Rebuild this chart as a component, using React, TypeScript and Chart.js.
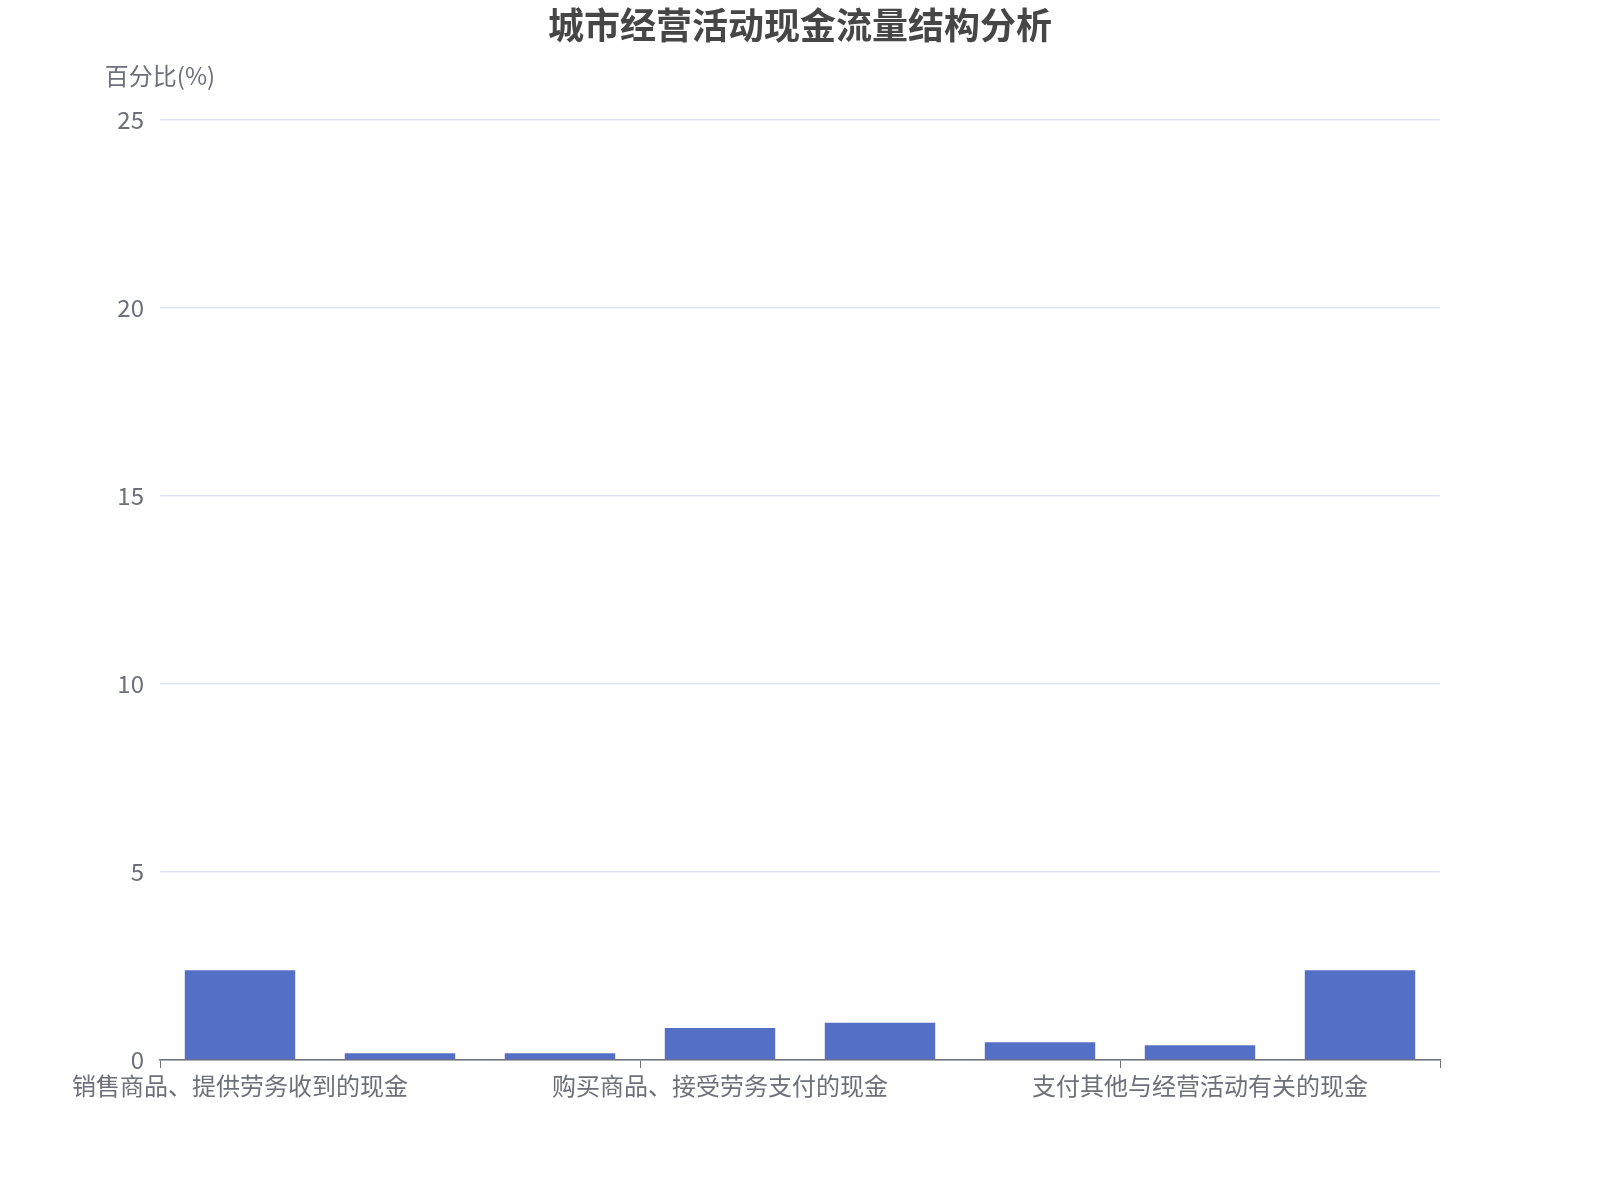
import React, { useEffect, useRef } from 'react';
import { Chart, registerables } from 'chart.js';

Chart.register(...registerables);

const categories = [
  '销售商品、提供劳务收到的现金',
  '收到的税费返还',
  '收到其他与经营活动有关的现金',
  '购买商品、接受劳务支付的现金',
  '支付给职工以及为职工支付的现金',
  '支付的各项税费',
  '支付其他与经营活动有关的现金',
  '经营活动产生的现金流量净额',
];
const percentValues = [2.39, 0.18, 0.18, 0.85, 0.99, 0.47, 0.39, 2.39];
const yTicks = [0, 5, 10, 15, 20, 25];

const FONT = '"Noto Sans CJK SC", "Noto Sans", sans-serif';
const TEXT_COLOR = '#6e7079';

const overlayText = {
  id: 'overlayText',
  afterDraw(chart: Chart) {
    const ctx = chart.ctx;
    ctx.save();
    ctx.fillStyle = '#464646';
    ctx.font = `bold 36px ${FONT}`;
    ctx.textAlign = 'center';
    ctx.textBaseline = 'middle';
    ctx.fillText('城市经营活动现金流量结构分析', chart.width / 2, 25);
    ctx.fillStyle = TEXT_COLOR;
    ctx.font = `24px ${FONT}`;
    ctx.fillText('百分比(%)', chart.chartArea.left, 76);
    ctx.restore();
  },
};

const App: React.FC = () => {
  const chartRef = useRef<HTMLCanvasElement>(null);
  const chartInstanceRef = useRef<Chart | null>(null);

  useEffect(() => {
    document.body.style.margin = '0';
    if (!chartRef.current) return;
    const ctx = chartRef.current.getContext('2d');
    if (!ctx) return;

    chartInstanceRef.current = new Chart(ctx, {
      type: 'bar',
      data: {
        labels: categories,
        datasets: [{
          label: '百分比',
          data: percentValues,
          backgroundColor: '#5470c6',
          barPercentage: 0.69,
          categoryPercentage: 1,
        }],
      },
      options: {
        animation: false,
        responsive: false,
        layout: { padding: { top: 120, right: 160, left: 0, bottom: 0 } },
        plugins: {
          legend: { display: false },
          title: { display: false },
          tooltip: { enabled: false },
        },
        scales: {
          x: {
            offset: true,
            grid: {
              offset: true,
              drawOnChartArea: false,
              tickLength: 8,
              color: (c: any) => (c.index === undefined || c.index % 3 === 0 ? TEXT_COLOR : 'transparent'),
            },
            border: { color: TEXT_COLOR, width: 1.5 },
            ticks: {
              autoSkip: false,
              maxRotation: 0,
              minRotation: 0,
              padding: 3,
              color: TEXT_COLOR,
              font: { size: 24, family: FONT },
              callback: (_v: any, i: number) => (i % 3 === 0 ? categories[i] : ''),
            },
            afterFit: (scale: any) => { scale.height = 140; },
          },
          y: {
            min: 0,
            max: 25,
            afterBuildTicks: (scale: any) => { scale.ticks = yTicks.map(v => ({ value: v })); },
            grid: { color: '#e0e6f1', drawTicks: false, lineWidth: 1.5 },
            border: { display: false },
            ticks: {
              padding: 16,
              color: TEXT_COLOR,
              font: { size: 24, family: FONT },
            },
            afterFit: (scale: any) => { scale.width = 160; },
          },
        },
      },
      plugins: [overlayText],
    });

    return () => {
      if (chartInstanceRef.current) {
        chartInstanceRef.current.destroy();
        chartInstanceRef.current = null;
      }
    };
  }, []);

  return <canvas ref={chartRef} width={1600} height={1200} aria-label="城市经营活动现金流量结构分析"></canvas>;
};

export default App;
